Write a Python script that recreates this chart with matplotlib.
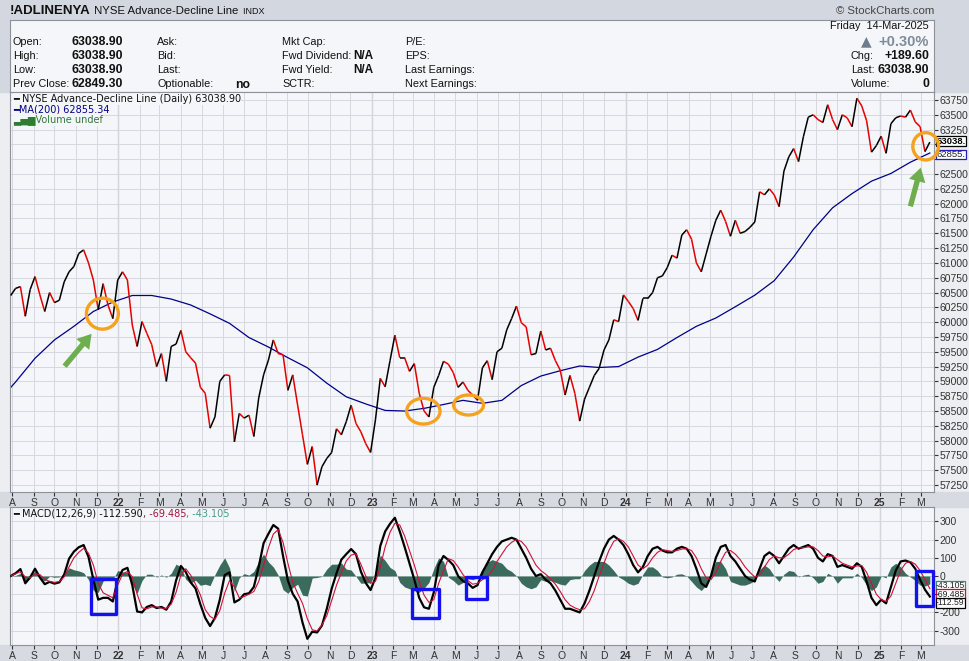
import numpy as np
import pandas as pd
import matplotlib
matplotlib.use('Agg')
import matplotlib.pyplot as plt
import matplotlib.dates as mdates
from matplotlib.collections import LineCollection
from matplotlib.patches import Ellipse, Rectangle, FancyArrowPatch

plt.rcParams['font.family'] = ['Liberation Sans', 'DejaVu Sans']

# NYSE Advance-Decline line, weekly closes (Fridays from 2021-07-30)
ad_line = [
    60450, 60570, 60600, 60100, 60550, 60770, 60460, 60180, 60500, 60330,
    60370, 60680, 60850, 60940, 61160, 61220, 61000, 60710, 60210, 60650,
    60290, 60060, 60710, 60850, 60710, 59950, 59590, 60010, 59810, 59620,
    59250, 59470, 59000, 59590, 59630, 59860, 59500, 59400, 59310, 58900,
    58800, 58210, 58400, 59000, 59110, 59100, 57980, 58460, 58380, 58430,
    58070, 58720, 59110, 59360, 59700, 59470, 59450, 58850, 59110, 58600,
    58100, 57600, 57900, 57250, 57560, 57700, 57800, 58200, 58100, 58320,
    58600, 58290, 58150, 57950, 57800, 58350, 59050, 58910, 59350, 59780,
    59400, 59400, 59170, 59300, 58800, 58500, 58400, 58900, 59100, 59340,
    59290, 59150, 58900, 58990, 58850, 58770, 58680, 59230, 59350, 59030,
    59500, 59560, 59870, 60060, 60270, 59990, 59920, 59450, 59470, 59850,
    59530, 59560, 59350, 59190, 58770, 59100, 58800, 58330, 58700, 58900,
    59100, 59220, 59530, 59700, 60040, 60010, 60460, 60350, 60230, 60030,
    60400, 60400, 60500, 60750, 60780, 60920, 61130, 61080, 61470, 61560,
    61400, 61000, 60850, 61150, 61450, 61720, 61890, 61700, 61450, 61720,
    61500, 61530, 61600, 61690, 62200, 62150, 62250, 62150, 61950, 62550,
    62790, 62930, 62710, 63130, 63460, 63500, 63420, 63370, 63670, 63420,
    63250, 63500, 63450, 63300, 63780, 63650, 63400, 62870, 62980, 63140,
    62850, 63350, 63450, 63480, 63460, 63580, 63380, 63300, 62880, 63038.9,
]

# 200-day moving average, every 4 weeks from 2021-07-09
ma200 = [
    58620, 58990, 59390, 59700, 59930, 60180, 60340, 60450, 60450, 60390,
    60290, 60140, 59980, 59740, 59580, 59400, 59230, 58970, 58740, 58620,
    58510, 58500, 58545, 58610, 58680, 58630, 58680, 58930, 59090, 59180,
    59260, 59235, 59250, 59410, 59540, 59740, 59930, 60070, 60260, 60455,
    60700, 61100, 61560, 61930, 62170, 62380, 62510, 62700, 62855.34,
]

# MACD(12,26,9) line and signal, weekly like ad_line
macd_line = [
    0, 15, 38, -40, -8, 40, -8, -45, -32, -42,
    -35, 8, 95, 134, 158, 170, 105, -20, -130, -120,
    -120, -140, -20, 33, 45, -50, -195, -200, -170, -160,
    -176, -170, -185, -140, -25, 55, 22, -35, -68, -155,
    -230, -275, -230, -130, 5, 20, -145, -130, -100, -95,
    -60, 50, 180, 232, 280, 260, 110, -25, -98, -140,
    -255, -345, -306, -310, -272, -180, -70, 15, 90, 120,
    148, 120, 25, -38, -77, -10, 165, 245, 287, 320,
    245, 160, 70, -20, -120, -172, -180, -90, 60, 110,
    88, 60, 0, -28, -40, -65, -50, 20, 70, 120,
    160, 190, 200, 210, 200, 150, 100, 40, 0, 10,
    -20, -40, -80, -130, -180, -180, -190, -200, -150, -80,
    0, 80, 150, 200, 220, 200, 170, 120, 60, 20,
    50, 110, 150, 160, 140, 130, 130, 150, 160, 150,
    110, 40, -40, -60, 0, 100, 160, 170, 110, 80,
    40, 0, -20, -30, 40, 110, 130, 110, 70, 110,
    150, 170, 150, 160, 170, 150, 100, 80, 120, 110,
    50, 60, 50, 40, 70, 50, -30, -120, -160, -130,
    -150, -60, 30, 80, 85, 75, 40, -20, -75, -112.59,
]
macd_signal = [
    0, 12, 24, -5, -10, 12, 8, -18, -30, -35,
    -30, -5, 50, 100, 130, 152, 125, 60, -40, -92,
    -106, -120, -50, 10, 25, -4, -100, -175, -180, -170,
    -170, -176, -178, -155, -90, 5, 40, 5, -45, -104,
    -185, -222, -238, -190, -95, -25, -60, -120, -113, -100,
    -85, -30, 60, 155, 230, 255, 185, 70, -35, -95,
    -150, -235, -295, -302, -270, -218, -135, -50, 18, 82,
    115, 122, 65, 0, -40, -30, 50, 160, 240, 290,
    280, 220, 140, 60, -30, -105, -145, -130, -40, 30,
    95, 85, 50, 8, -25, -45, -40, -20, -5, 30,
    80, 120, 160, 185, 200, 190, 160, 110, 60, 30,
    10, -15, -45, -85, -130, -160, -175, -185, -180, -140,
    -80, 0, 70, 140, 190, 205, 190, 160, 110, 60,
    40, 60, 100, 130, 145, 140, 135, 140, 148, 150,
    140, 100, 40, -10, -20, 20, 80, 130, 140, 120,
    90, 50, 20, -5, 5, 50, 90, 110, 100, 100,
    120, 145, 155, 155, 160, 160, 140, 110, 105, 110,
    90, 70, 60, 50, 55, 58, 20, -40, -100, -130,
    -140, -110, -40, 30, 70, 80, 65, 30, -20, -69.485,
]

price_ticks = list(range(57250, 63751, 250))
macd_ticks = [-300, -200, -100, 0, 100, 200, 300]

week_dates = pd.date_range('2021-07-30', periods=len(ad_line), freq='7D')
ma_dates = pd.date_range('2021-07-09', periods=len(ma200), freq='28D')
macd_hist = np.array(macd_line) - np.array(macd_signal)

W, H = 970.0, 661.0


def box(x0, y0, x1, y1):
    # pixel box (top-left origin) -> figure fraction rect
    return [x0 / W, 1 - y1 / H, (x1 - x0) / W, (y1 - y0) / H]


def fx(x):
    return x / W


def fy(y):
    return 1 - y / H


fig = plt.figure(figsize=(9.7, 6.61), dpi=100, facecolor='#eceef2')
# header and axis bands (behind the axes)
for y0, y1, c in [(0, 92, '#d3d7df'), (492, 507, '#d7dae0'), (645, 661, '#d7dae0')]:
    fig.patches.append(Rectangle((0, fy(y1)), 1, (y1 - y0) / H, transform=fig.transFigure,
                                 color=c, zorder=-5))

renderer = fig.canvas.get_renderer()


def chain_text(x, y, parts, **kw):
    # write coloured pieces of text one after another
    for s, c, extra in parts:
        t = fig.text(x, y, s, color=c, **kw, **extra)
        bb = t.get_window_extent(renderer=renderer)
        x = fig.transFigure.inverted().transform((bb.x1, bb.y0))[0]


# title line
chain_text(fx(10), fy(11.5), [('!ADLINENYA', '#111', dict(fontsize=9.5, fontweight='bold')),
                              (' NYSE Advance-Decline Line', '#111', dict(fontsize=8.2)),
                              ('  INDX', '#111', dict(fontsize=6.5))], va='center')
fig.text(fx(934), fy(11.5), '\u00a9 StockCharts.com', ha='right', va='center', fontsize=8.2, color='#444')

# info box
ax_info = fig.add_axes(box(10, 20, 934, 92))
ax_info.set_facecolor('#f5f6f9')
ax_info.set_xticks([])
ax_info.set_yticks([])
for s in ax_info.spines.values():
    s.set_color('#8c919b')

rows = [41.7, 55.7, 70, 84]
cols = [
    (13, ['Open:', 'High:', 'Low:', 'Prev Close:']),
    (157, ['Ask:', 'Bid:', 'Last:', 'Optionable:']),
    (282, ['Mkt Cap:', 'Fwd Dividend:', 'Fwd Yield:', 'SCTR:']),
    (405, ['P/E:', 'EPS:', 'Last Earnings:', 'Next Earnings:']),
]
for x, labels in cols:
    for y, s in zip(rows, labels):
        fig.text(fx(x), fy(y), s, va='center', fontsize=7.8, color='#111')
for y, s in zip(rows, ['63038.90', '63038.90', '63038.90', '62849.30']):
    fig.text(fx(72), fy(y), s, va='center', fontsize=8.8, fontweight='bold', color='#111')
fig.text(fx(235), fy(85), 'no', va='center', fontsize=8.8, fontweight='bold', color='#111')
fig.text(fx(353), fy(55.7), 'N/A', va='center', fontsize=8.5, fontweight='bold', color='#111')
fig.text(fx(353), fy(70), 'N/A', va='center', fontsize=8.5, fontweight='bold', color='#111')

fig.text(fx(929), fy(26), 'Friday  14-Mar-2025', ha='right', va='center', fontsize=7.8, color='#111')
fig.text(fx(866), fy(41.5), '\u25b2', ha='center', va='center', fontsize=10, color='#6f7c8c',
         family='DejaVu Sans')
fig.text(fx(929), fy(41.5), '+0.30%', ha='right', va='center', fontsize=10.5, fontweight='bold',
         color='#7f8b9b')
for y, lab, val in [(55.7, 'Chg:', '+189.60'), (70, 'Last:', '63038.90'), (84, 'Volume:', '0')]:
    fig.text(fx(851), fy(y), lab, va='center', fontsize=7.8, color='#111')
    fig.text(fx(929), fy(y), val, ha='right', va='center', fontsize=8.8, fontweight='bold', color='#111')

# price panel and MACD panel
ax = fig.add_axes(box(10, 92, 934, 492))
ax2 = fig.add_axes(box(10, 507, 934, 645), sharex=ax)

months = pd.date_range('2021-08-01', '2025-03-01', freq='MS')
mlabels = [f'{m:%y}' if m.month == 1 else f'{m:%b}'[0] for m in months]

for a in (ax, ax2):
    a.set_facecolor('#f5f6fa')
    a.set_axisbelow(True)
    a.set_xticks(months)
    a.set_xticklabels(mlabels)
    for t, m in zip(a.get_xticklabels(), months):
        if m.month == 1:
            t.set_fontweight('bold')
            t.set_fontsize(8.5)
    a.tick_params(axis='x', direction='out', length=3, pad=1, labelsize=7.5, colors='#333',
                  labelbottom=True)
    a.yaxis.tick_right()
    a.tick_params(axis='y', direction='out', length=3, pad=1, labelsize=7.5, colors='#333')
    a.grid(True, color='#d5d8de', lw=0.7)
    for m in months[months.month == 1]:
        a.axvline(m, color='#aab0ba', lw=0.9, zorder=0.5)
    for s in a.spines.values():
        s.set_color('#8c919b')
    a.set_xlim(pd.Timestamp('2021-07-29'), pd.Timestamp('2025-03-20'))

# AD line, black on up weeks, red on down weeks
xd = mdates.date2num(week_dates)
pts = np.column_stack([xd, ad_line])
segs = np.stack([pts[:-1], pts[1:]], axis=1)
seg_cols = ['black' if b >= a else '#e60000' for a, b in zip(ad_line[:-1], ad_line[1:])]
ax.add_collection(LineCollection(segs, colors=seg_cols, linewidths=1.1, zorder=3))
ax.plot(ma_dates, ma200, color='#00008b', lw=0.9, zorder=2)

ax.set_ylim(57133, 63885)
ax.set_yticks(price_ticks)
# 63000 and 62750 sit under the last-value tags, as on the original
ax.set_yticklabels(['' if v in (63000, 62750) else str(v) for v in price_ticks])

# last-value tags on the right edge
ytr = ax.get_yaxis_transform()
ax.text(1.003, 63050, '63038.', transform=ytr, va='center', ha='left', fontsize=6.8,
        fontweight='bold', clip_on=False, zorder=5,
        bbox=dict(boxstyle='square,pad=0.05', fc='white', ec='black', lw=0.9))
ax.text(1.003, 62830, '62855.', transform=ytr, va='center', ha='left', fontsize=6.8,
        color='#222', clip_on=False, zorder=4,
        bbox=dict(boxstyle='square,pad=0.05', fc='white', ec='#2020c0', lw=0.9))

# legend
leg_kw = dict(transform=ax.transAxes, family='DejaVu Sans', fontsize=7, va='center', zorder=6,
              bbox=dict(boxstyle='square,pad=0.05', fc='#f5f6fa', ec='none'))
ax.text(0.003, 0.982, '\u2501 NYSE Advance-Decline Line (Daily) 63038.90', color='#111', **leg_kw)
ax.text(0.003, 0.955, '\u2501MA(200) 62855.34', color='#00008b', **leg_kw)
ax.text(0.003, 0.930, '\u2583\u2585\u2587Volume undef', color='#2e7d32', **leg_kw)

# highlight circles and arrows on the price panel
orange = '#f5a21e'
for d, v, w, h in [('2021-12-09', 60143, 46, 523), ('2023-03-16', 58497, 48, 434),
                   ('2023-05-20', 58602, 43, 338), ('2025-03-08', 62968, 37, 461)]:
    ax.add_patch(Ellipse((mdates.date2num(pd.Timestamp(d)), v), w, h, fill=False,
                         ec=orange, lw=2.4, zorder=6, clip_on=False))
green = '#6fae4e'
for (d0, v0), (d1, v1) in [(('2021-10-13', 59221), ('2021-11-26', 59839)),
                           (('2025-02-13', 61910), ('2025-03-02', 62653))]:
    ax.add_patch(FancyArrowPatch((mdates.date2num(pd.Timestamp(d0)), v0),
                                 (mdates.date2num(pd.Timestamp(d1)), v1),
                                 arrowstyle='simple,head_length=0.9,head_width=1.1,tail_width=0.35',
                                 mutation_scale=11, color=green, lw=0, zorder=6))

# MACD panel
ax2.fill_between(week_dates, 0, macd_hist, color='#3b6b5d', lw=0, zorder=2)
ax2.plot(week_dates, macd_line, color='black', lw=1.6, zorder=3)
ax2.plot(week_dates, macd_signal, color='#d0103a', lw=0.8, zorder=4)
ax2.set_ylim(-379, 379)
ax2.set_yticks(macd_ticks)
# -100 is covered by the value tags on the original
ax2.set_yticklabels(['' if v == -100 else str(v) for v in macd_ticks])

ytr2 = ax2.get_yaxis_transform()
for v, s, ec in [(-52, '-43.105', '#3b8a74'), (-100, '-69.485', '#c0103a'), (-148, '-112.59', 'black')]:
    ax2.text(1.002, v, s, transform=ytr2, va='center', ha='left', fontsize=6.2, color='#222',
             clip_on=False, zorder=5, bbox=dict(boxstyle='square,pad=0.03', fc='white', ec=ec, lw=0.9))

chain_text(fx(13), fy(514), [('\u2501 MACD(12,26,9) -112.590', '#111', {}),
                             (', -69.485', '#9b1b3a', {}),
                             (', -43.105', '#4a9a82', {})],
           va='center', family='DejaVu Sans', fontsize=7)

# blue boxes on the MACD panel
for d0, d1, v0, v1 in [('2021-11-23', '2021-12-28', -207, -16), ('2023-02-28', '2023-04-08', -231, -71),
                       ('2023-05-17', '2023-06-15', -126, -5), ('2025-02-22', '2025-03-19', -165, 27)]:
    x0 = mdates.date2num(pd.Timestamp(d0))
    x1 = mdates.date2num(pd.Timestamp(d1))
    ax2.add_patch(Rectangle((x0, v0), x1 - x0, v1 - v0, fill=False, ec='#1212ee', lw=2.4,
                            joinstyle='round', zorder=6, clip_on=False))

fig.savefig('out.png', dpi=100, facecolor=fig.get_facecolor())
